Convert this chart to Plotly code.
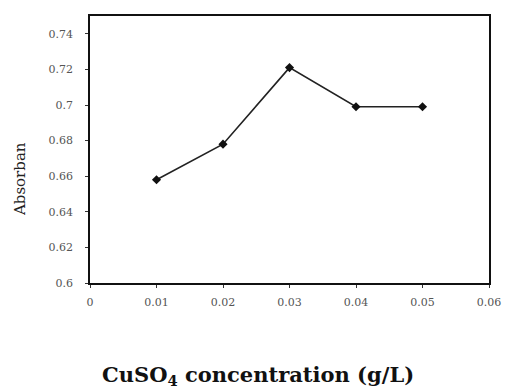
import plotly.graph_objects as go

conc = [0.01, 0.02, 0.03, 0.04, 0.05]
absorb = [0.658, 0.678, 0.721, 0.699, 0.699]
x_ticks = [0, 0.01, 0.02, 0.03, 0.04, 0.05, 0.06]
x_labels = ["0", "0.01", "0.02", "0.03", "0.04", "0.05", "0.06"]
y_ticks = [0.6, 0.62, 0.64, 0.66, 0.68, 0.7, 0.72, 0.74]
y_labels = ["0.6", "0.62", "0.64", "0.66", "0.68", "0.7", "0.72", "0.74"]

fig = go.Figure()
fig.add_trace(go.Scatter(
    x=conc, y=absorb, mode="lines+markers",
    line=dict(color="#222", width=1.6),
    marker=dict(symbol="diamond", size=7, color="#111"),
    showlegend=False,
))

serif = "DejaVu Serif, Liberation Serif, serif"
fig.update_layout(
    width=513, height=390,
    margin=dict(l=90, r=18, t=16, b=107),
    paper_bgcolor="white", plot_bgcolor="white",
    font=dict(family=serif, color="#333"),
)
fig.update_xaxes(
    range=[0, 0.06], tickvals=x_ticks, ticktext=x_labels,
    showgrid=False, zeroline=False, showline=True, linecolor="#111", linewidth=2,
    mirror=True, ticks="outside", ticklen=3, tickcolor="#333",
    ticklabelstandoff=5,
    tickfont=dict(size=11, family=serif, color="#555"),
)
fig.update_yaxes(
    range=[0.6, 0.75], tickvals=y_ticks, ticktext=y_labels,
    showgrid=False, zeroline=False, showline=True, linecolor="#111", linewidth=1.5,
    mirror=True, ticks="outside", ticklen=3, tickcolor="#333",
    ticklabelstandoff=10,
    tickfont=dict(size=11, family=serif, color="#555"),
)
fig.add_annotation(
    text="Absorban", textangle=-90,
    xref="paper", yref="paper", x=-0.175, y=0.39, xanchor="center", yanchor="middle",
    showarrow=False, font=dict(size=15, family=serif, color="#222"),
)
fig.add_annotation(
    text="<b>CuSO<sub>4</sub> concentration (g/L)</b>",
    xref="paper", yref="paper", x=0.42, y=-0.345, xanchor="center", yanchor="middle",
    showarrow=False, font=dict(size=21, family=serif, color="#111"),
)
fig.write_html("out.html")
